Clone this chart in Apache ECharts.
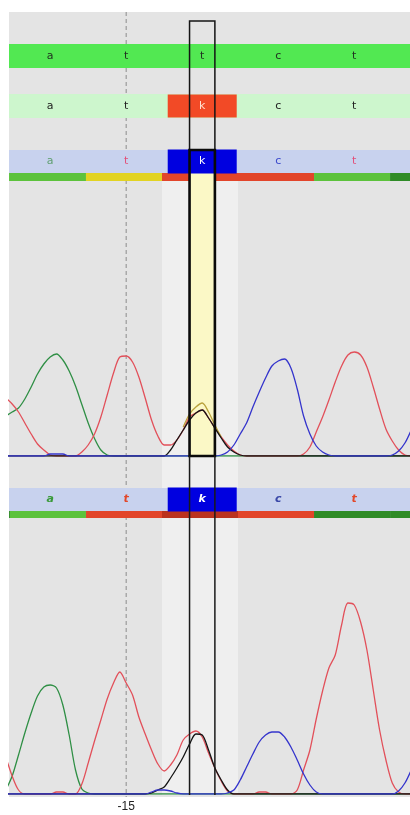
<!DOCTYPE html>
<html><head><meta charset="utf-8">
<script src="https://cdn.jsdelivr.net/npm/echarts@6/dist/echarts.min.js"></script>
<style>html,body{margin:0;padding:0;background:#fff}#c{width:410px;height:815px}</style>
</head><body><div id="c"></div>
<script>
// ---------------- data ----------------
const baseNumbers   = [-16, -15, -14, -13, -12];
const basePositions = [108, 120, 132, 144, 156];          // trace scan of each base call
const refSeq  = ['a', 't', 't', 'c', 't'];
const seqRow2 = ['a', 't', 'k', 'c', 't'];
const seqRow3 = ['a', 't', 'k', 'c', 't'];
const seqRow4 = ['a', 't', 'k', 'c', 't'];
const highlightIndex = 2;
const rulerTicks = [-15];
const qualityPositions = [96, 108, 120, 132, 144, 156, 168];
const quality1 = ['high', 'high', 'mid', 'low', 'low', 'high', 'top'];
const quality2 = ['top', 'high', 'low', 'lowest', 'low', 'top', 'top'];

const traceStart = 101;   // scan of first sample
const trace1A = [400,440,480,570,690,820,920,990,1020,960, 850,700,515,330,175,60,10,0,0,0, 0,0,0,0,0,0,0,0,0,0, 0,0,0,0,0,0,0,0,0,0, 0,0,0,0,0,0,0,0,0,0, 0,0,0,0,0,0,0,0,0,0, 0,0,0,0,0];
const trace1T = [580,520,440,330,220,120,60,10,0,0, 0,0,40,110,220,390,610,830,990,1000, 940,790,580,360,200,110,110,160,260,390, 430,460,380,280,190,110,50,10,0,0, 0,0,0,0,0,0,0,20,90,240, 390,560,740,900,1010,1040,1010,890,690,470, 270,150,60,10,0];
const trace1G = [0,0,0,0,0,0,0,0,0,0, 0,0,0,0,0,0,0,0,0,0, 0,0,0,0,0,0,60,160,260,360, 430,460,380,280,180,90,40,10,0,0, 0,0,0,0,0,0,0,0,0,0, 0,0,0,0,0,0,0,0,0,0, 0,0,0,0,0];
const trace1C = [0,0,0,0,0,0,0,20,20,20, 0,0,0,0,0,0,0,0,0,0, 0,0,0,0,0,0,0,0,0,0, 0,0,0,0,10,40,110,220,330,490, 640,780,900,950,970,880,670,400,220,100, 40,10,0,0,0,0,0,0,0,0, 0,10,50,130,260];
const trace1MixStart = 129;
const trace1Mix = [290,420,490,530,440,310,190];

const trace2A = [40,180,390,610,810,980,1070,1090,1060,890, 590,240,50,10,0,0,0,0,0,0, 0,0,0,0,0,0,0,0,0,0, 0,0,0,0,0,0,0,0,0,0, 0,0,0,0,0,0,0,0,0,0, 0,0,0,0,0,0,0,0,0,0, 0,0,0,0,0];
const trace2T = [370,180,40,0,0,0,0,0,20,20, 0,0,100,310,530,740,950,1110,1220,1110, 990,770,600,440,300,230,290,390,540,600, 630,570,410,260,130,30,0,0,0,0, 20,20,0,0,0,0,40,240,440,750, 1030,1260,1390,1690,1910,1890,1720,1440,1040,640, 340,110,20,0,0];
const trace2G = [0,0,0,0,0,0,0,0,0,0, 0,0,0,0,0,0,0,0,0,0, 0,0,0,10,40,70,160,260,370,500, 600,590,440,260,140,40,0,0,0,0, 0,0,0,0,0,0,0,0,0,0, 0,0,0,0,0,0,0,0,0,0, 0,0,0,0,0];
const trace2C = [0,0,0,0,0,0,0,0,0,0, 0,0,0,0,0,0,0,0,0,0, 0,0,0,20,40,40,30,10,0,0, 0,0,0,0,0,10,40,140,270,400, 520,590,620,620,570,470,340,200,90,20, 0,0,0,0,0,0,0,0,0,0, 0,0,30,110,240];

// ---------------- styles ----------------
const X_MIN = 101.5, X_MAX = 164.8;
const LEFT = 9, WIDTH = 401;
const FONT = 'DejaVu Sans, Verdana, sans-serif';
const qualityColors = {top: '#2f8b27', high: '#5cc23c', mid: '#e2d323', low: '#e2452a', lowest: '#bb321e'};
const traceColors = {A: '#2f8f45', T: '#e2505a', G: '#151515', C: '#3434cc', mix: '#b9a23c'};
const HL = basePositions[highlightIndex];

const chart = echarts.init(document.getElementById('c'), null, {renderer: 'canvas'});

function grid(top, height, bg, z) {
  return {left: LEFT, width: WIDTH, top: top, height: height, show: !!bg,
          backgroundColor: bg || 'transparent', borderWidth: 0, z: z || 0, containLabel: false};
}
const grids = [
  grid(12, 785, '#e4e4e4', 0),   // 0 overlay
  grid(44, 24, '#52e852', 2),    // 1 reference row
  grid(94, 24, '#cdf6cd', 2),    // 2 row 2
  grid(150, 23, '#c8d2ee', 2),   // 3 row 3
  grid(173, 8, null, 2),         // 4 quality 1
  grid(181, 275, null, 2),       // 5 trace 1
  grid(488, 23, '#c8d2ee', 2),   // 6 row 4
  grid(511, 7, null, 2),         // 7 quality 2
  grid(519, 275, null, 2)        // 8 trace 2
];
const xAxes = grids.map((g, i) => ({
  gridIndex: i, type: 'value', min: X_MIN, max: X_MAX, show: i === 0,
  axisLine: {show: false}, axisTick: {show: false}, splitLine: {show: false},
  axisLabel: i === 0 ? {
    show: true, customValues: rulerTicks.map(n => basePositions[baseNumbers.indexOf(n)]),
    formatter: v => String(baseNumbers[basePositions.indexOf(v)]),
    color: '#222', fontSize: 12, fontFamily: 'Liberation Sans, Arial, sans-serif', margin: 4
  } : {show: false}
}));
const yAxes = grids.map((g, i) => {
  if (i === 0) return {gridIndex: 0, type: 'value', min: 12, max: 797, inverse: true, show: false};
  if (i === 5 || i === 8) return {gridIndex: i, type: 'value', min: 0, max: 2750, show: false};
  return {gridIndex: i, type: 'value', min: 0, max: 1, show: false};
});

const series = [];

// lighter column behind the highlighted base
series.push({
  type: 'custom', xAxisIndex: 0, yAxisIndex: 0, z: 1, silent: true,
  data: [[HL]],
  renderItem: (p, api) => {
    const a = api.coord([api.value(0) - 6.35, 181]);
    const b = api.coord([api.value(0) + 5.65, 795]);
    return {type: 'rect', shape: {x: a[0], y: a[1], width: b[0] - a[0], height: b[1] - a[1]}, style: {fill: '#efefef'}};
  }
});
// dashed ruler line
series.push({
  type: 'custom', xAxisIndex: 0, yAxisIndex: 0, z: 1, silent: true,
  data: rulerTicks.map(n => [basePositions[baseNumbers.indexOf(n)]]),
  renderItem: (p, api) => {
    const a = api.coord([api.value(0), 12]);
    const b = api.coord([api.value(0), 797]);
    return {type: 'line', shape: {x1: a[0], y1: a[1], x2: b[0], y2: b[1]},
            style: {stroke: '#9a9a9a', lineWidth: 1.2, lineDash: [4, 3]}};
  }
});

// sequence rows
function seqRow(gridIndex, seq, opts) {
  series.push({
    type: 'scatter', xAxisIndex: gridIndex, yAxisIndex: gridIndex, z: 5, silent: true,
    symbol: 'rect', symbolSize: [69, opts.boxH || 23],
    itemStyle: {opacity: 1},
    data: seq.map((b, i) => {
      const boxed = opts.box && b === 'k';
      return {
        value: [basePositions[i], 0.5],
        itemStyle: {color: boxed ? opts.box : 'rgba(0,0,0,0)', opacity: 1},
        label: {color: boxed ? opts.boxText : (opts.colors[b] || opts.colors._)}
      };
    }),
    label: {show: true, position: 'inside', formatter: p => seq[p.dataIndex],
            fontSize: 11, fontFamily: FONT,
            fontStyle: opts.italic ? 'italic' : 'normal', fontWeight: opts.bold ? 'bold' : 'normal'}
  });
}
seqRow(1, refSeq, {colors: {_: '#223322'}});
seqRow(2, seqRow2, {colors: {_: '#222'}, box: '#f24a26', boxText: '#ffe0d0', boxH: 23});
seqRow(3, seqRow3, {colors: {a: '#5f9f70', t: '#e2507a', c: '#3a48cc', _: '#333'}, box: '#0000e0', boxText: '#ffffff', boxH: 24});
seqRow(6, seqRow4, {colors: {a: '#3a9a3a', t: '#e2482a', c: '#3a48a8', _: '#333'}, box: '#0000e0', boxText: '#ffffff', boxH: 24, italic: true, bold: true});

// quality bars
function qualityBar(gridIndex, q) {
  series.push({
    type: 'custom', xAxisIndex: gridIndex, yAxisIndex: gridIndex, z: 3, silent: true,
    data: qualityPositions.map((pos, i) => ({value: [pos], itemStyle: {color: qualityColors[q[i]]}})),
    renderItem: (p, api) => {
      const cs = p.coordSys;
      let x1 = api.coord([api.value(0) - 6.35, 0.5])[0];
      let x2 = api.coord([api.value(0) + 5.65, 0.5])[0];
      x1 = Math.max(x1, cs.x); x2 = Math.min(x2, cs.x + cs.width);
      if (x2 <= x1) return null;
      return {type: 'rect', shape: {x: x1, y: cs.y, width: x2 - x1, height: cs.height}, style: {fill: api.visual('color')}};
    }
  });
}
qualityBar(4, quality1);
qualityBar(7, quality2);

// yellow highlight fill
series.push({
  type: 'custom', xAxisIndex: 0, yAxisIndex: 0, z: 4, silent: true,
  data: [[HL]],
  renderItem: (p, api) => {
    const a = api.coord([api.value(0) - 2, 173]);
    const b = api.coord([api.value(0) + 2, 456]);
    return {type: 'rect', shape: {x: a[0], y: a[1], width: b[0] - a[0], height: b[1] - a[1]}, style: {fill: '#fbf8c6'}};
  }
});

// traces
function trace(gridIndex, values, start, color, name) {
  series.push({
    type: 'line', name: name, xAxisIndex: gridIndex, yAxisIndex: gridIndex, z: 6, silent: true,
    showSymbol: false, smooth: 0.3, animation: false,
    lineStyle: {color: color, width: 1.3},
    data: values.map((v, i) => [start + i, v])
  });
}
trace(5, trace1A, traceStart, traceColors.A, 'A');
trace(5, trace1T, traceStart, traceColors.T, 'T');
trace(5, trace1Mix, trace1MixStart, traceColors.mix, 'mix');
trace(5, trace1G, traceStart, traceColors.G, 'G');
trace(5, trace1C, traceStart, traceColors.C, 'C');
trace(8, trace2A, traceStart, traceColors.A, 'A');
trace(8, trace2T, traceStart, traceColors.T, 'T');
trace(8, trace2G, traceStart, traceColors.G, 'G');
trace(8, trace2C, traceStart, traceColors.C, 'C');

// black highlight box
series.push({
  type: 'custom', xAxisIndex: 0, yAxisIndex: 0, z: 8, silent: true,
  data: [[HL]],
  renderItem: (p, api) => {
    const x = api.value(0);
    const t = api.coord([x - 2, 21]), m = api.coord([x + 2, 150]);
    const b = api.coord([x + 2, 456]), e = api.coord([x + 2, 795]);
    return {type: 'group', children: [
      {type: 'rect', shape: {x: t[0], y: t[1], width: m[0] - t[0], height: m[1] - t[1]},
       style: {fill: 'none', stroke: '#141414', lineWidth: 1.5}},
      {type: 'rect', shape: {x: t[0], y: m[1], width: m[0] - t[0], height: b[1] - m[1]},
       style: {fill: 'none', stroke: '#0a0a0a', lineWidth: 2.6}},
      {type: 'line', shape: {x1: t[0], y1: b[1], x2: t[0], y2: e[1]}, style: {stroke: '#1a1a1a', lineWidth: 1.5}},
      {type: 'line', shape: {x1: m[0], y1: b[1], x2: m[0], y2: e[1]}, style: {stroke: '#1a1a1a', lineWidth: 1.5}}
    ]};
  }
});

chart.setOption({
  animation: false,
  grid: grids, xAxis: xAxes, yAxis: yAxes, series: series
});
</script></body></html>
